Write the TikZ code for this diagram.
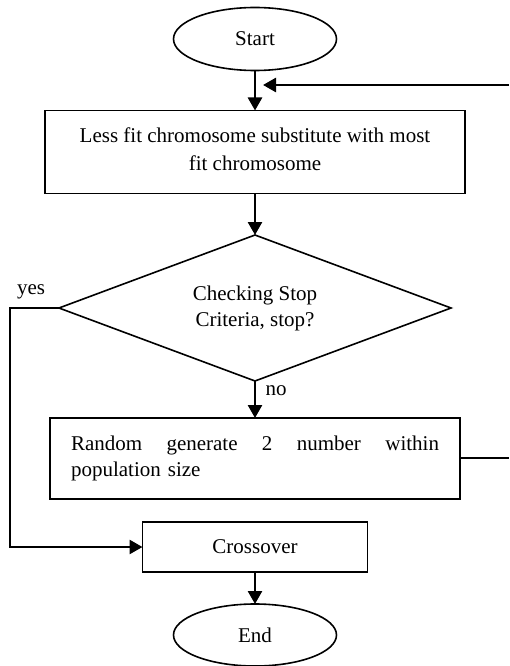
\documentclass[tikz,border=0pt]{standalone}
\usepackage{fontspec}
\setmainfont{Liberation Serif}
\usetikzlibrary{shapes.geometric,arrows.meta}
\begin{document}
\begin{tikzpicture}[x=1pt,y=-1pt,
  every node/.style={font=\fontsize{21}{26}\selectfont, inner sep=0pt, outer sep=0pt},
  term/.style={draw, ellipse, line width=1.6pt, minimum width=163pt, minimum height=63pt},
  proc/.style={draw, rectangle, line width=1.6pt},
  dec/.style={draw, diamond, shape aspect=2.68, line width=1.6pt, minimum width=392pt, minimum height=146pt, align=center},
  conn/.style={line width=2.6pt},
  arr/.style={conn, -{Triangle[length=13pt,width=14pt]}},
  lbl/.style={font=\fontsize{21}{26}\selectfont}
]
\useasboundingbox (0,0) rectangle (509,666);

\node[term] (start) at (255,39) {Start};
\node[proc, minimum width=420pt, minimum height=83pt, align=center,
      font=\fontsize{21}{28}\selectfont] (sub) at (255,152)
  {Less fit chromosome substitute with most\\fit chromosome\rule[-6pt]{0pt}{0pt}};
\node[dec] (dia) at (255,308) {Checking Stop\\Criteria, stop?};
\node[proc, minimum width=410pt, minimum height=81pt, text width=368pt, align=left] (rand) at (255,458.5)
  {\hbox to 368pt{Random\hfill generate\hfill 2\hfill number\hfill within}\\population size};
\node[proc, minimum width=225pt, minimum height=50pt] (cross) at (255,547) {Crossover};
\node[term, minimum height=62pt] (end) at (255,635) {End};

\coordinate (fbin) at (509,85);
\coordinate (fbtip) at (263,85);
\coordinate (randout) at (509,458);
\coordinate (yc1) at (10,308);
\coordinate (yc2) at (10,547);

\draw[arr] (start.south) -- (sub.north);
\draw[arr] (sub.south) -- (dia.north);
\draw[arr] (dia.south) -- (rand.north);
\node[lbl] (nolbl) at (276,391) {no};
\draw[arr] (dia.west) -- (yc1) -- (yc2) -- (cross.west);
\node[lbl] (yeslbl) at (31,292) {yes};
\draw[conn] (rand.east |- randout) -- (randout);
\draw[arr] (fbin) -- (fbtip);
\draw[arr] (cross.south) -- (end.north);
\end{tikzpicture}
\end{document}
